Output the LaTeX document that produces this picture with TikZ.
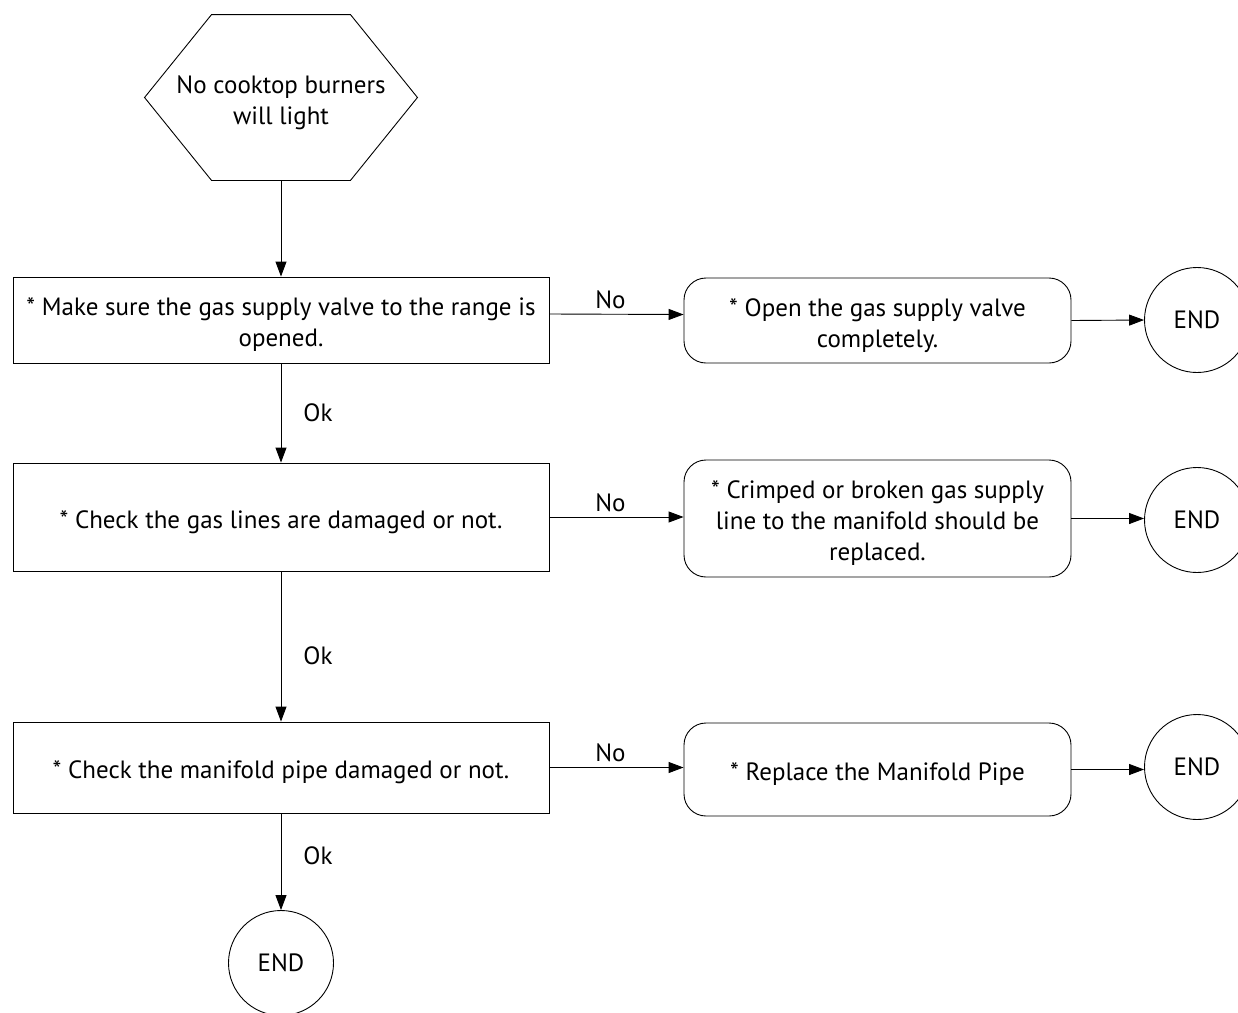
\documentclass[tikz,border=0pt]{standalone}
\usepackage{fontspec}
\setmainfont{PT Sans}
\usetikzlibrary{arrows.meta,calc}
\newcommand{\lowtext}[1]{\raisebox{-5pt}[\height][\depth]{\begin{tabular}{@{}c@{}}#1\end{tabular}}}
\begin{document}
\begin{tikzpicture}[x=1pt,y=-1pt,
  font=\fontsize{25}{31}\selectfont,
  line width=0.9pt,
  box/.style={draw, minimum width=536pt, inner sep=0pt},
  rbox/.style={draw, rounded corners=22pt, minimum width=387pt, inner sep=0pt},
  endc/.style={draw, circle, minimum size=105pt, inner sep=0pt},
  arr/.style={-{Triangle[length=15pt,width=11pt]}},
  lbl/.style={inner sep=0pt}]
\useasboundingbox (0,0) rectangle (1238,1012);
\clip (0,0) rectangle (1238,1012);
\fill[white] (0,0) rectangle (1238,1012);

% start hexagon
\node[minimum width=272pt, minimum height=165pt, inner sep=0pt] (start) at (281,97.5) {\lowtext{No cooktop burners\\will light}};
\draw (start.west) -- ($(start.north west)+(67,0)$) -- ($(start.north east)+(-67,0)$)
  -- (start.east) -- ($(start.south east)+(-67,0)$) -- ($(start.south west)+(67,0)$) -- cycle;

% check boxes
\node[box, minimum height=86pt] (b1) at (281,320) {\lowtext{* Make sure the gas supply valve to the range is\\opened.}};
\node[box, minimum height=108pt] (b2) at (281,517) {\lowtext{* Check the gas lines are damaged or not.}};
\node[box, minimum height=91pt] (b3) at (281,767.5) {\lowtext{* Check the manifold pipe damaged or not.}};

% action boxes
\node[rbox, minimum height=85pt] (r1) at (877.5,320.5) {\lowtext{* Open the gas supply valve\\completely.}};
\node[rbox, minimum height=117pt] (r2) at (877.5,518.5) {\lowtext{* Crimped or broken gas supply\\line to the manifold should be\\replaced.}};
\node[rbox, minimum height=93pt] (r3) at (877.5,769.5) {\lowtext{* Replace the Manifold Pipe}};

% end circles
\node[endc] (e1) at (1197,320) {END};
\node[endc] (e2) at (1197,520) {END};
\node[endc] (e3) at (1197,767) {END};
\node[endc] (e4) at (281,963) {END};

% connectors
\draw[arr] (start.south) -- (b1.north);
\draw[arr] (b1.south) -- node[lbl, anchor=west, xshift=22pt] {Ok} (b2.north);
\draw[arr] (b2.south) -- node[lbl, anchor=west, xshift=22pt, pos=0.56] {Ok} (b3.north);
\draw[arr] (b3.south) -- node[lbl, anchor=west, xshift=22pt, pos=0.44] {Ok} (e4.north);

\draw[arr] ([yshift=6pt]b1.east) -- node[lbl, anchor=south, yshift=5pt, xshift=-6pt] {No} ([yshift=6pt]r1.west);
\draw[arr] (b2.east) -- node[lbl, anchor=south, yshift=5pt, xshift=-6pt] {No} (b2.east -| r2.west);
\draw[arr] (b3.east) -- node[lbl, anchor=south, yshift=5pt, xshift=-6pt] {No} (b3.east -| r3.west);

\draw[arr] (r1.east) -- (e1.west);
\draw[arr] (r2.east) -- (r2.east -| e2.west);
\draw[arr] (r3.east) -- (r3.east -| e3.west);
\end{tikzpicture}
\end{document}
